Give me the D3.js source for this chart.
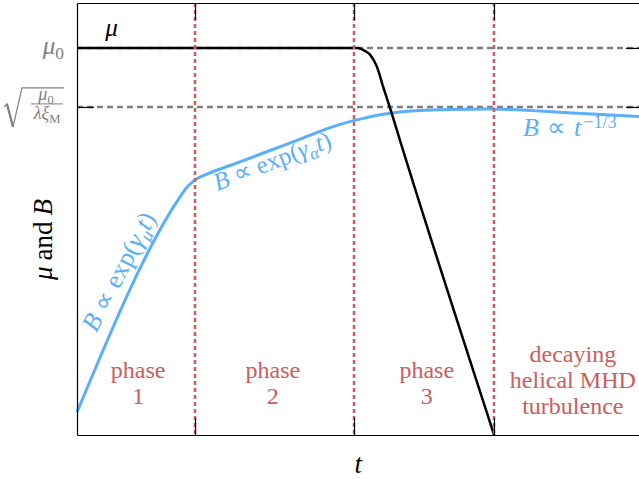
<!DOCTYPE html>
<html>
<head>
<meta charset="utf-8">
<script src="https://cdn.jsdelivr.net/npm/d3@7"></script>
<style>
    body { margin: 0; background: #fff; }
    svg { display: block; }
</style>
</head>
<body>
<div id="chart"></div>
<script>
// time is in units of the full axis width, values in units of mu0
const phaseEdges = [0.2085, 0.4894, 0.7367];
const levelVals = [1, 0.8475];          // mu0 and sqrt(mu0 / lambda xi_M)

const muT    = [0, 0.496, 0.509, 0.518, 0.530, 0.541, 0.553, 0.576, 0.737];
const muVals = [1, 1, 0.992, 0.982, 0.951, 0.899, 0.845, 0.736, 0];

const bT    = [0, 0.182, 0.193, 0.207, 0.235, 0.283, 0.341, 0.399, 0.459, 0.500, 0.553, 0.641, 0.730, 0.876, 1.0];
const bVals = [0.059, 0.615, 0.638, 0.657, 0.677, 0.703, 0.735, 0.767, 0.800, 0.816, 0.831, 0.840, 0.842, 0.832, 0.822];

const phaseLabels = [["phase", "1"], ["phase", "2"], ["phase", "3"], ["decaying", "helical MHD", "turbulence"]];
const phaseLabelT = [0.108, 0.346, 0.618, 0.876];

const colBlue = "#5aaff8", colRed = "#cd5c5c", colGray = "#7f7f7f";
const serif = "Liberation Serif";

const width = 639, height = 479;
const margin = {top: 3, right: -4, bottom: 44, left: 77};

const svg = d3.select("#chart").append("svg")
    .attr("width", width)
    .attr("height", height);

const x = d3.scaleLinear().domain([0, 1]).range([margin.left, width - margin.right]);
const y = d3.scaleLinear().domain([0, 1.116]).range([height - margin.bottom, margin.top]);

// small helper for math-like text: parts are {s, i (italic), sub, sup, dx}
function mathText(sel, parts, size) {
    let shift = 0;
    parts.forEach(p => {
        let target = p.sub ? size * 0.22 : (p.sup ? -size * 0.3 : 0);
        let ts = sel.append("tspan").text(p.s)
            .attr("font-family", serif)
            .attr("font-size", (p.sub || p.sup) ? size * 0.7 : size)
            .attr("dy", target - shift);
        if (p.dx) ts.attr("dx", p.dx);
        if (p.i) ts.attr("font-style", "italic");
        shift = target;
    });
    return sel;
}

// horizontal reference levels
svg.selectAll(".level")
    .data(levelVals)
    .enter().append("line")
    .attr("class", "level")
    .attr("x1", x(0)).attr("x2", x(1))
    .attr("y1", d => y(d)).attr("y2", d => y(d))
    .attr("stroke", colGray)
    .attr("stroke-width", 2.5)
    .attr("stroke-dasharray", "6,4");

// curves
let line = d3.line().x(d => x(d[0])).y(d => y(d[1])).curve(d3.curveMonotoneX);

svg.append("path")
    .datum(bT.map((t, i) => [t, bVals[i]]))
    .attr("d", line)
    .attr("fill", "none")
    .attr("stroke", colBlue)
    .attr("stroke-width", 3);

svg.append("path")
    .datum(muT.map((t, i) => [t, muVals[i]]))
    .attr("d", line)
    .attr("fill", "none")
    .attr("stroke", "#000")
    .attr("stroke-width", 2.5);

// phase boundaries
svg.selectAll(".edge")
    .data(phaseEdges)
    .enter().append("line")
    .attr("class", "edge")
    .attr("x1", d => x(d)).attr("x2", d => x(d))
    .attr("y1", y.range()[1]).attr("y2", y.range()[0])
    .attr("stroke", colRed)
    .attr("stroke-width", 2.5)
    .attr("stroke-dasharray", "4,3");

// frame with inward ticks
const tick = -17;
svg.append("g").attr("transform", `translate(0,${y.range()[0]})`)
    .call(d3.axisBottom(x).tickValues(phaseEdges).tickSize(tick).tickSizeOuter(0).tickFormat(""));
svg.append("g").attr("transform", `translate(0,${y.range()[1]})`)
    .call(d3.axisTop(x).tickValues(phaseEdges).tickSize(tick).tickSizeOuter(0).tickFormat(""));
svg.append("g").attr("transform", `translate(${x.range()[0]},0)`)
    .call(d3.axisLeft(y).tickValues(levelVals).tickSize(tick).tickSizeOuter(0).tickFormat(""));
svg.append("g").attr("transform", `translate(${x.range()[1]},0)`)
    .call(d3.axisRight(y).tickValues(levelVals).tickSize(tick).tickSizeOuter(0).tickFormat(""));
svg.selectAll(".domain, .tick line").attr("stroke", "#000").attr("stroke-width", 1.2);

// level labels
mathText(svg.append("text")
    .attr("x", x(0) - 13).attr("y", y(levelVals[0]) + 6)
    .attr("text-anchor", "end").attr("fill", colGray),
    [{s: "μ", i: true}, {s: "0", sub: true}], 25);

let sq = svg.append("g").attr("transform", `translate(0,${y(levelVals[1])})`);
sq.append("path")
    .attr("d", "M4,0 L7,-3 L13,20 L22,-19 L64,-19")
    .attr("fill", "none").attr("stroke", colGray).attr("stroke-width", 1.2);
sq.append("path")
    .attr("d", "M7,-3 L13,20")
    .attr("fill", "none").attr("stroke", colGray).attr("stroke-width", 2.2);
mathText(sq.append("text").attr("x", 46).attr("y", -7).attr("text-anchor", "middle").attr("fill", colGray),
    [{s: "μ", i: true}, {s: "0", sub: true}], 18);
sq.append("line").attr("x1", 31).attr("x2", 63).attr("y1", -3).attr("y2", -3)
    .attr("stroke", colGray).attr("stroke-width", 1);
mathText(sq.append("text").attr("x", 47).attr("y", 12).attr("text-anchor", "middle").attr("fill", colGray),
    [{s: "λξ", i: true}, {s: "M", sub: true}], 18);

// curve labels
mathText(svg.append("text")
    .attr("x", x(0.05)).attr("y", y(1.03))
    .attr("fill", "#000"),
    [{s: "μ", i: true}], 25);

mathText(svg.append("text")
    .attr("transform", `translate(${x(0.087)},${y(0.412)}) rotate(-62.5)`)
    .attr("text-anchor", "middle").attr("fill", colBlue),
    [{s: "B", i: true}, {s: "∝", dx: 7}, {s: "exp(", dx: 7}, {s: "γ", i: true}, {s: "μ", i: true, sub: true}, {s: "t", i: true}, {s: ")"}], 26);

mathText(svg.append("text")
    .attr("transform", `translate(${x(0.35)},${y(0.688)}) rotate(-21)`)
    .attr("text-anchor", "middle").attr("fill", colBlue),
    [{s: "B", i: true}, {s: "∝", dx: 6}, {s: "exp(", dx: 6}, {s: "γ", i: true}, {s: "α", i: true, sub: true}, {s: "t", i: true}, {s: ")"}], 25);

mathText(svg.append("text")
    .attr("x", x(0.788)).attr("y", y(0.772))
    .attr("fill", colBlue),
    [{s: "B", i: true}, {s: "∝", dx: 8}, {s: "t", i: true, dx: 8}, {s: "−1/3", sup: true, dx: 2}], 26);

// phase labels
phaseLabels.forEach((lines, k) => {
    let t = svg.append("text")
        .attr("text-anchor", "middle")
        .attr("font-family", serif)
        .attr("fill", colRed)
        .attr("font-size", 24);
    let top = lines.length == 3 ? 362 : 378;
    lines.forEach((s, j) => {
        t.append("tspan").attr("x", x(phaseLabelT[k])).attr("y", top + j * 26).text(s);
    });
});

// axis titles
svg.append("text")
    .attr("x", x(0.497)).attr("y", height - 6)
    .attr("text-anchor", "middle")
    .attr("font-family", serif)
    .attr("font-size", 27).attr("font-style", "italic")
    .text("t");

mathText(svg.append("text")
    .attr("transform", `translate(52,${y(0.505)}) rotate(-90)`)
    .attr("text-anchor", "middle"),
    [{s: "μ", i: true}, {s: "and", dx: 6}, {s: "B", i: true, dx: 6}], 27);
</script>
</body>
</html>
